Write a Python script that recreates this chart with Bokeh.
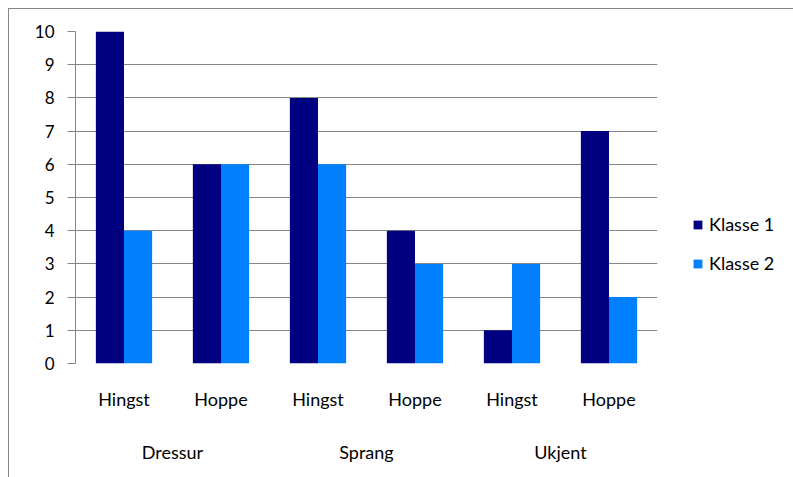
from bokeh.plotting import figure
from bokeh.models import (ColumnDataSource, Range1d, FixedTicker, LinearAxis,
                          Legend, LegendItem)
from bokeh.transform import dodge
from bokeh.embed import file_html
from bokeh.resources import INLINE

groups = ["Dressur", "Sprang", "Ukjent"]
subs = ["Hingst", "Hoppe"]
klasse1 = [10, 6, 8, 4, 1, 7]
klasse2 = [4, 6, 6, 3, 3, 2]
series_names = ["Klasse 1", "Klasse 2"]
colors = ["#000080", "#0080FF"]
y_ticks = list(range(0, 11))

n = len(groups) * len(subs)
xs = list(range(n))
src = ColumnDataSource(dict(x=xs, k1=klasse1, k2=klasse2))

FONT = "Lato"
FS = "18px"
GRAY = "#868686"

p = figure(frame_width=582, frame_height=332, output_backend="svg", toolbar_location=None,
           x_range=Range1d(-0.5, n - 0.5), y_range=Range1d(0, 10),
           x_axis_location=None, y_axis_location=None,
           min_border_left=66, min_border_top=22, min_border_right=125,
           min_border_bottom=114)
p.styles = {"margin-left": "8px", "margin-top": "8px",
            "border-left": "1px solid #868686", "border-top": "1px solid #868686"}
p.outline_line_color = None
p.background_fill_color = "white"
p.border_fill_color = "white"

# y axis
yax = LinearAxis(ticker=FixedTicker(ticks=y_ticks))
yax.axis_line_color = GRAY
yax.major_tick_line_color = GRAY
yax.major_tick_out = 8
yax.major_tick_in = 0
yax.minor_tick_line_color = None
yax.major_label_standoff = 13
yax.major_label_text_font = FONT
yax.major_label_text_font_size = "17px"
yax.major_label_text_color = "black"
p.add_layout(yax, "left")

# x axes (sub categories and groups)
sub_ticks = xs
sub_labels = {i: subs[i % len(subs)] for i in xs}
xax1 = LinearAxis(ticker=FixedTicker(ticks=sub_ticks), major_label_overrides=sub_labels)
grp_ticks = [g * len(subs) + (len(subs) - 1) / 2 for g in range(len(groups))]
grp_labels = {t: groups[i] for i, t in enumerate(grp_ticks)}
xax2 = LinearAxis(ticker=FixedTicker(ticks=grp_ticks), major_label_overrides=grp_labels)
for ax, st in ((xax1, 18), (xax2, 22)):
    ax.axis_line_color = None
    ax.major_tick_line_color = None
    ax.minor_tick_line_color = None
    ax.major_label_standoff = st
    ax.major_label_text_font = FONT
    ax.major_label_text_font_size = FS
    ax.major_label_text_color = "black"
    p.add_layout(ax, "below")

p.xgrid.visible = False
p.ygrid.ticker = FixedTicker(ticks=y_ticks)
p.ygrid.grid_line_color = GRAY
p.ygrid.grid_line_width = 1

w = 0.29
r1 = p.vbar(x=dodge("x", -w / 2, range=p.x_range), top="k1", width=w, source=src,
            fill_color=colors[0], line_color=None)
r2 = p.vbar(x=dodge("x", w / 2, range=p.x_range), top="k2", width=w, source=src,
            fill_color=colors[1], line_color=None)

legend = Legend(items=[LegendItem(label=series_names[0], renderers=[r1]),
                       LegendItem(label=series_names[1], renderers=[r2])],
                location=(35, 89))
legend.border_line_color = None
legend.background_fill_alpha = 0
legend.padding = 0
legend.margin = 0
legend.spacing = 17
legend.glyph_width = 11
legend.glyph_height = 11
legend.label_standoff = 6
legend.label_text_font = FONT
legend.label_text_font_size = FS
legend.label_text_color = "black"
legend.label_height = 20
p.add_layout(legend, "right")

open("out.html", "w").write(file_html(p, INLINE))
